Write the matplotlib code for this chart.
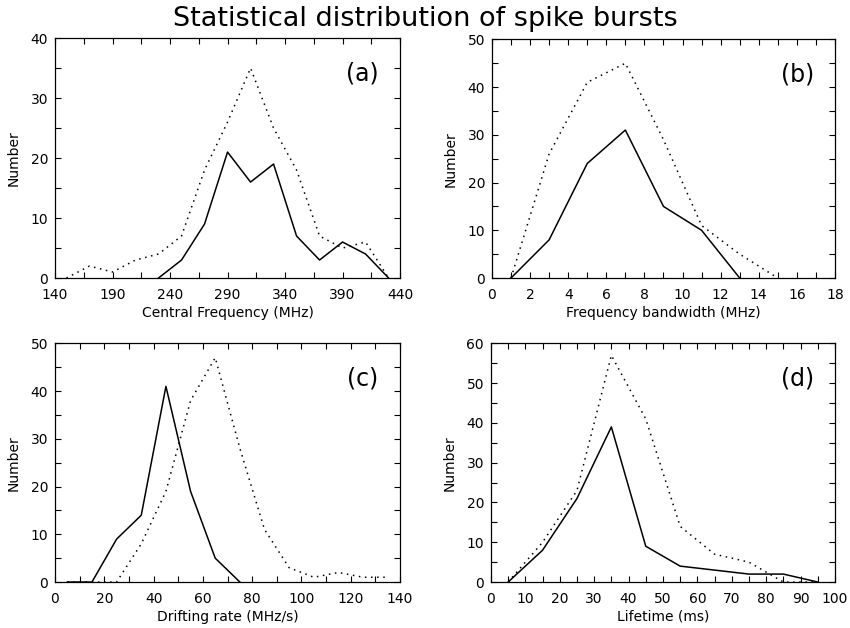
import numpy as np
import matplotlib
matplotlib.use("Agg")
import matplotlib.pyplot as plt
from matplotlib.ticker import MultipleLocator

# (a) central frequency
freq_x = [150, 170, 190, 210, 230, 250, 270, 290, 310, 330, 350, 370, 390, 410, 430]
freq_dot = [0, 2, 1, 3, 4, 7, 18, 26, 35, 25, 18, 7, 5, 6, 0]
freq_sol_x = [230, 250, 270, 290, 310, 330, 350, 370, 390, 410, 430]
freq_sol = [0, 3, 9, 21, 16, 19, 7, 3, 6, 4, 0]

# (b) frequency bandwidth
bw_x = [1, 3, 5, 7, 9, 11, 13, 15]
bw_dot = [0, 26, 41, 45, 29, 11, 5, 0]
bw_sol_x = [1, 3, 5, 7, 9, 11, 13]
bw_sol = [0, 8, 24, 31, 15, 10, 0]

# (c) drifting rate
dr_x = [5, 15, 25, 35, 45, 55, 65, 75, 85, 95, 105, 115, 125, 135]
dr_dot = [0, 0, 0, 8, 19, 38, 47, 28, 11, 3, 1, 2, 1, 1]
dr_sol_x = [5, 15, 25, 35, 45, 55, 65, 75]
dr_sol = [0, 0, 9, 14, 41, 19, 5, 0]

# (d) lifetime
lt_x = [5, 15, 25, 35, 45, 55, 65, 75, 85, 95]
lt_dot = [0, 10, 23, 57, 41, 14, 7, 5, 0, 0]
lt_sol = [0, 8, 21, 39, 9, 4, 3, 2, 2, 0]

fig = plt.figure(figsize=(8.5, 6.28), dpi=100)
fs = 10

panels = [
    # rect, xlim, ymax, (xmajor, offset), (xminor, offset), xlabel, tag, data
    ([0.0647, 0.5573, 0.406, 0.382], (140, 440), 40, (50, 40), (25, 15),
     "Central Frequency (MHz)", "(a)", (freq_x, freq_dot, freq_sol_x, freq_sol)),
    ([0.5788, 0.5573, 0.4035, 0.380], (0, 18), 50, (2, 0), (1, 0),
     "Frequency bandwidth (MHz)", "(b)", (bw_x, bw_dot, bw_sol_x, bw_sol)),
    ([0.0647, 0.0732, 0.406, 0.380], (0, 140), 50, (20, 0), (10, 0),
     "Drifting rate (MHz/s)", "(c)", (dr_x, dr_dot, dr_sol_x, dr_sol)),
    ([0.5776, 0.0732, 0.4047, 0.380], (0, 100), 60, (10, 0), (5, 0),
     "Lifetime (ms)", "(d)", (lt_x, lt_dot, lt_x, lt_sol)),
]

for rect, xlim, ymax, xmaj, xmin, xlabel, tag, d in panels:
    ax = fig.add_axes(rect)
    ax.plot(d[0], d[1], color="black", lw=1.1, linestyle=(0, (1, 3)))
    ax.plot(d[2], d[3], color="black", lw=1.1)
    ax.set_xlim(*xlim)
    ax.set_ylim(0, ymax)
    ax.xaxis.set_major_locator(MultipleLocator(xmaj[0], offset=xmaj[1]))
    ax.xaxis.set_minor_locator(MultipleLocator(xmin[0], offset=xmin[1]))
    ax.yaxis.set_major_locator(MultipleLocator(10))
    ax.yaxis.set_minor_locator(MultipleLocator(5))
    ax.tick_params(which="both", direction="in", top=True, right=True,
                   labelsize=fs, width=0.8, length=4)
    ax.tick_params(axis="x", pad=7)
    ax.tick_params(axis="y", pad=5)
    for s in ax.spines.values():
        s.set_linewidth(0.9)
    ax.set_xlabel(xlabel, fontsize=fs, labelpad=3)
    ax.set_ylabel("Number", fontsize=fs, labelpad=7)
    ax.text(0.89, 0.853, tag, transform=ax.transAxes, fontsize=17,
            ha="center", va="center")

fig.text(0.5, 0.97, "Statistical distribution of spike bursts",
         ha="center", va="center", fontsize=19.5)

fig.savefig("out.png", dpi=100)
